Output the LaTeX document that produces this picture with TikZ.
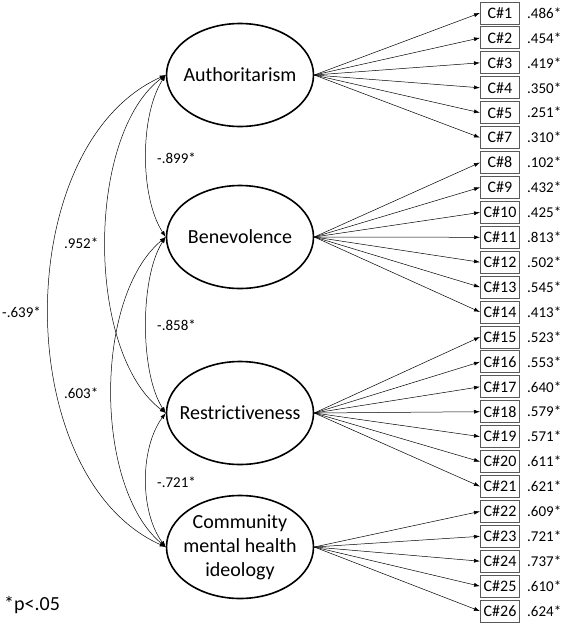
\documentclass[tikz,border=0pt]{standalone}
\usepackage{fontspec}
\setmainfont{Carlito}[Ligatures = NoCommon]
\usetikzlibrary{shapes.geometric, arrows.meta}

\begin{document}
\begin{tikzpicture}[x = 1pt, y = -1pt,
  factor/.style = {ellipse, draw, line width = 1.6pt, minimum width = 147pt, minimum height = 103pt, inner sep = 0},
  ftext/.style = {align = center, inner sep = 0, font = \fontsize{20}{24}\selectfont},
  item/.style = {draw = black!65, line width = 1pt, minimum width = 39pt, minimum height = 22pt, inner sep = 0, font = \fontsize{16}{18}\selectfont},
  coef/.style = {anchor = west, inner sep = 0, font = \fontsize{15}{17}\selectfont},
  load/.style = {line width = .5pt, -{Latex[length = 6pt, width = 4pt]}},
  cov/.style = {line width = .5pt, {Latex[length = 6pt, width = 4pt]}-{Latex[length = 6pt, width = 4pt]}}]
\useasboundingbox (0, 0) rectangle (565, 625);
\node[factor, label = {[ftext]center:Authoritarism}] (auth) at (240, 75) {};
\node[factor, label = {[ftext]center:Benevolence}] (bene) at (240, 237) {};
\node[factor, label = {[ftext]center:Restrictiveness}] (rest) at (240, 413) {};
\node[factor, label = {[ftext]center:{Community\\mental health\\ideology}}] (cmhi) at (240, 547) {};

\node[item] (c1) at (500, 13.0) {C\#1};   \node[coef] at (527, 13.0) {.486*};
\node[item] (c2) at (500, 37.9) {C\#2};   \node[coef] at (527, 37.9) {.454*};
\node[item] (c3) at (500, 62.8) {C\#3};   \node[coef] at (527, 62.8) {.419*};
\node[item] (c4) at (500, 87.8) {C\#4};   \node[coef] at (527, 87.8) {.350*};
\node[item] (c5) at (500, 112.7) {C\#5};  \node[coef] at (527, 112.7) {.251*};
\node[item] (c7) at (500, 137.6) {C\#7};  \node[coef] at (527, 137.6) {.310*};
\node[item] (c8) at (500, 162.5) {C\#8};  \node[coef] at (527, 162.5) {.102*};
\node[item] (c9) at (500, 187.4) {C\#9};  \node[coef] at (527, 187.4) {.432*};
\node[item] (c10) at (500, 212.4) {C\#10}; \node[coef] at (527, 212.4) {.425*};
\node[item] (c11) at (500, 237.3) {C\#11}; \node[coef] at (527, 237.3) {.813*};
\node[item] (c12) at (500, 262.2) {C\#12}; \node[coef] at (527, 262.2) {.502*};
\node[item] (c13) at (500, 287.1) {C\#13}; \node[coef] at (527, 287.1) {.545*};
\node[item] (c14) at (500, 312.0) {C\#14}; \node[coef] at (527, 312.0) {.413*};
\node[item] (c15) at (500, 337.0) {C\#15}; \node[coef] at (527, 337.0) {.523*};
\node[item] (c16) at (500, 361.9) {C\#16}; \node[coef] at (527, 361.9) {.553*};
\node[item] (c17) at (500, 386.8) {C\#17}; \node[coef] at (527, 386.8) {.640*};
\node[item] (c18) at (500, 411.7) {C\#18}; \node[coef] at (527, 411.7) {.579*};
\node[item] (c19) at (500, 436.6) {C\#19}; \node[coef] at (527, 436.6) {.571*};
\node[item] (c20) at (500, 461.6) {C\#20}; \node[coef] at (527, 461.6) {.611*};
\node[item] (c21) at (500, 486.5) {C\#21}; \node[coef] at (527, 486.5) {.621*};
\node[item] (c22) at (500, 511.4) {C\#22}; \node[coef] at (527, 511.4) {.609*};
\node[item] (c23) at (500, 536.3) {C\#23}; \node[coef] at (527, 536.3) {.721*};
\node[item] (c24) at (500, 561.2) {C\#24}; \node[coef] at (527, 561.2) {.737*};
\node[item] (c25) at (500, 586.2) {C\#25}; \node[coef] at (527, 586.2) {.610*};
\node[item] (c26) at (500, 611.1) {C\#26}; \node[coef] at (527, 611.1) {.624*};

\foreach \c in {c1, c2, c3, c4, c5, c7} \draw[load] (auth.east) -- (\c.west);
\foreach \c in {c8, c9, c10, c11, c12, c13, c14} \draw[load] (bene.east) -- (\c.west);
\foreach \c in {c15, c16, c17, c18, c19, c20, c21} \draw[load] (rest.east) -- (\c.west);
\foreach \c in {c22, c23, c24, c25, c26} \draw[load] (cmhi.east) -- (\c.west);

\draw[cov] (auth.west) .. controls +(-26, 40) and +(-26, -40) .. (bene.west);
\draw[cov] (bene.west) .. controls +(-26, 40) and +(-26, -40) .. (rest.west);
\draw[cov] (rest.west) .. controls +(-26, 35) and +(-26, -35) .. (cmhi.west);
\draw[cov] (auth.west) .. controls +(-80, 60) and +(-80, -60) .. (rest.west);
\draw[cov] (bene.west) .. controls +(-72, 60) and +(-72, -60) .. (cmhi.west);
\draw[cov] (auth.west) .. controls +(-156, 70) and +(-156, -70) .. (cmhi.west);

\node[coef] (r1) at (157, 158) {-.899*};
\node[coef] (r2) at (157, 325) {-.858*};
\node[coef] (r3) at (157, 482) {-.721*};
\node[coef] (r4) at (64, 243) {.952*};
\node[coef] (r5) at (64, 393) {.603*};
\node[coef] (r6) at (2, 312) {-.639*};
\node[anchor = west, inner sep = 0, font = \fontsize{20}{22}\selectfont] (note) at (4, 605) {*p<.05};
\end{tikzpicture}
\end{document}
